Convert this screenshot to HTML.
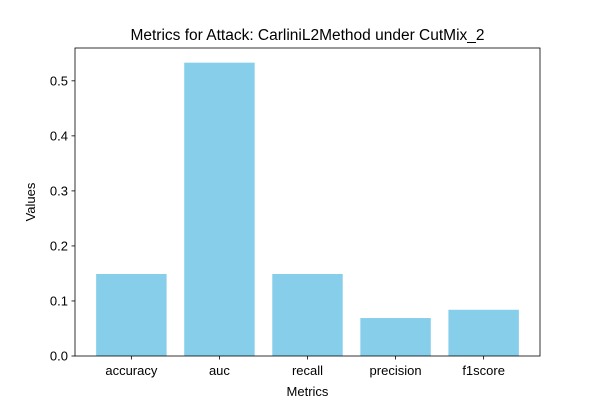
<!DOCTYPE html>
<html><head><meta charset="utf-8"><style>
body{margin:0;background:#fff}
svg{font-family:"Liberation Sans","DejaVu Sans",sans-serif}
</style></head><body>
<svg id="c" width="600" height="400"></svg>
<script>
const categories=["accuracy","auc","recall","precision","f1score"];
const values=[0.149,0.533,0.149,0.069,0.084];
const yTicks=[0.0,0.1,0.2,0.3,0.4,0.5];
const yTickLabels=["0.0","0.1","0.2","0.3","0.4","0.5"];
const L=75,R=540,T=48,B=356;
const xmin=-0.64,xmax=categories.length-1+0.64;
const ymax=Math.max(...values)*1.05;
const x=v=>L+(v-xmin)/(xmax-xmin)*(R-L);
const y=v=>B-v/ymax*(B-T);
const svg=document.getElementById('c');
const NS="http://www.w3.org/2000/svg";
function mk(t,a,txt){const e=document.createElementNS(NS,t);for(const k in a)e.setAttribute(k,a[k]);if(txt!==undefined)e.textContent=txt;svg.appendChild(e);return e;}
const bw=(x(0.8)-x(0));
categories.forEach((c,i)=>{
 const r=mk('rect',{x:x(i)-bw/2,y:y(values[i]),width:bw,height:B-y(values[i]),fill:'#87ceeb'});
 
 
 const tk=mk('line',{x1:x(i),x2:x(i),y1:B,y2:B+3.5,stroke:'#000','stroke-width':0.8});
 
 
 const t=mk('text',{x:x(i),y:B+19,'text-anchor':'middle','font-size':13},c);
 
 
});
yTicks.forEach((v,i)=>{
 const tk=mk('line',{x1:L-3.5,x2:L,y1:y(v),y2:y(v),stroke:'#000','stroke-width':0.8});
 
 
 const t=mk('text',{x:L-7,y:y(v)+4.5,'text-anchor':'end','font-size':13},yTickLabels[i]);
 
 
});
const f=mk('rect',{x:L,y:T,width:R-L,height:B-T,fill:'none',stroke:'#000','stroke-width':0.8});


const ti=mk('text',{x:(L+R)/2,y:40,'text-anchor':'middle','font-size':15.5},'Metrics for Attack: CarliniL2Method under CutMix_2');


const xl=mk('text',{x:(L+R)/2,y:396,'text-anchor':'middle','font-size':13},'Metrics');


const yl=mk('text',{x:35,y:(T+B)/2,'text-anchor':'middle','font-size':13,transform:'rotate(-90 35 '+((T+B)/2)+')'},'Values');


</script>
</body></html>
